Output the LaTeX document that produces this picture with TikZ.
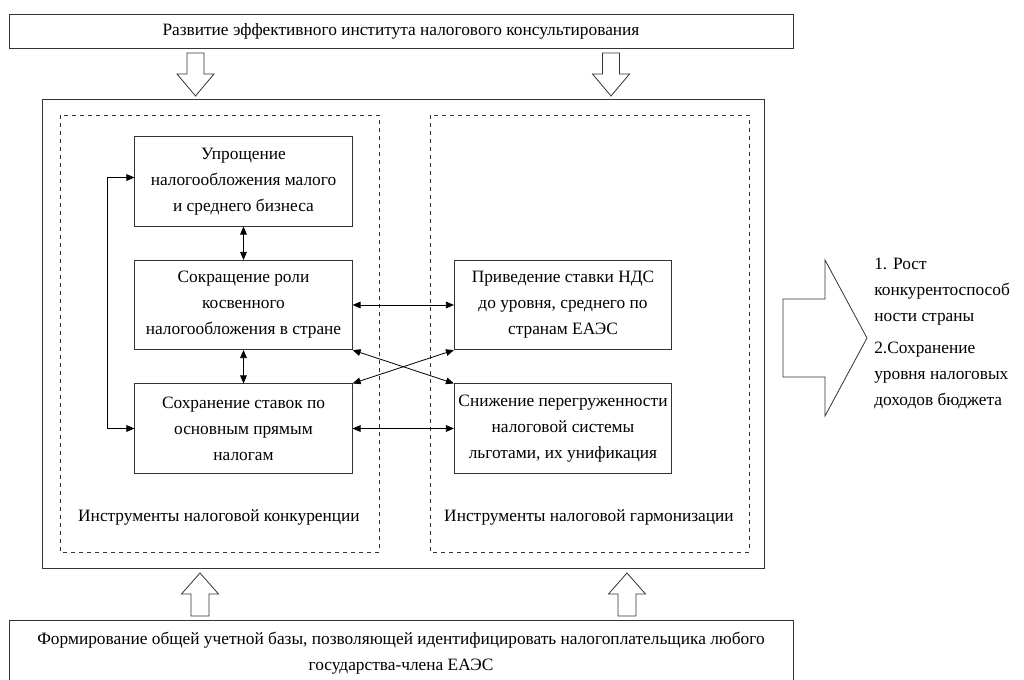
\documentclass[tikz,border=0pt]{standalone}
\usepackage{fontspec}
\setmainfont{Liberation Serif}
\usetikzlibrary{arrows.meta}

\tikzset{
  txt/.style={font=\fontsize{13}{19.5}\selectfont, align=center, inner sep=0pt},
  frame/.style={draw=black!80, line width=.6pt},
  box/.style={txt, frame, minimum width=163pt, minimum height=67pt},
  dbl/.style={{Triangle[length=6pt,width=5pt]}-{Triangle[length=6pt,width=5pt]}, line width=.6pt},
}

\begin{document}
\begin{tikzpicture}[x=.75pt,y=-.75pt]
        \useasboundingbox (0,0) rectangle (1024,680);
        % top and bottom
        \node[box, minimum width=588pt, minimum height=25.5pt] (razv) at (401,31)
          {Развитие эффективного института налогового консультирования};
        \node[box, minimum width=588pt, minimum height=49.5pt] (form) at (401,653)
          {Формирование общей учетной базы, позволяющей идентифицировать налогоплательщика любого\\государства-члена ЕАЭС};
        \foreach \cx in {195.5,611}
          \draw[frame] (\cx-8.5,53) -- (\cx+8.5,53) -- (\cx+8.5,74) -- (\cx+18.5,74)
            -- (\cx,96) -- (\cx-18.5,74) -- (\cx-8.5,74) -- cycle;
        \foreach \cx in {200,627}
          \draw[frame] (\cx-9,616) -- (\cx+9,616) -- (\cx+9,594) -- (\cx+18.5,594)
            -- (\cx,573) -- (\cx-18.5,594) -- (\cx-9,594) -- cycle;
        % frames
        \draw[frame] (42,99) rectangle (764,568);
        \draw[frame, dashed] (60,115) rectangle (379,552);
        \draw[frame, dashed] (430,115) rectangle (749,552);
        \node[txt] (konk) at (219,517) {Инструменты налоговой конкуренции};
        \node[txt] (garm) at (589,517) {Инструменты налоговой гармонизации};
        % boxes
        \node[box] (upr) at (243.5,181.5) {Упрощение\\налогообложения малого\\и среднего бизнеса};
        \node[box] (sokr) at (243.5,305) {Сокращение роли\\косвенного\\налогообложения в стране};
        \node[box] (sohr) at (243.5,428.5) {Сохранение ставок по\\основным прямым\\налогам};
        \node[box] (priv) at (563,305) {Приведение ставки НДС\\до уровня, среднего по\\странам ЕАЭС};
        \node[box] (snizh) at (563,428.5) {Снижение перегруженности\\налоговой системы\\льготами, их унификация};
        \draw[dbl] (upr) -- (sokr);
        \draw[dbl] (sokr) -- (sohr);
        \draw[dbl] (sokr) -- (priv);
        \draw[dbl] (sohr) -- (snizh);
        \draw[dbl] (sokr.south east) -- (snizh.north west);
        \draw[dbl] (sohr.north east) -- (priv.south west);
        \draw[dbl] (sohr.west) -- ++(-27,0) |- ([yshift=3pt]upr.west);
        % result
        \draw[frame] (783,299) -- (825,299) -- (825,260) -- (867,338)
          -- (825,416) -- (825,377) -- (783,377) -- cycle;
        \node[txt, align=left, anchor=west] (itog) at (874,333)
          {1. Рост\\конкурентоспособ\\ности страны\\[4.5pt]2.Сохранение\\уровня налоговых\\доходов бюджета};
      \end{tikzpicture}
\end{document}
